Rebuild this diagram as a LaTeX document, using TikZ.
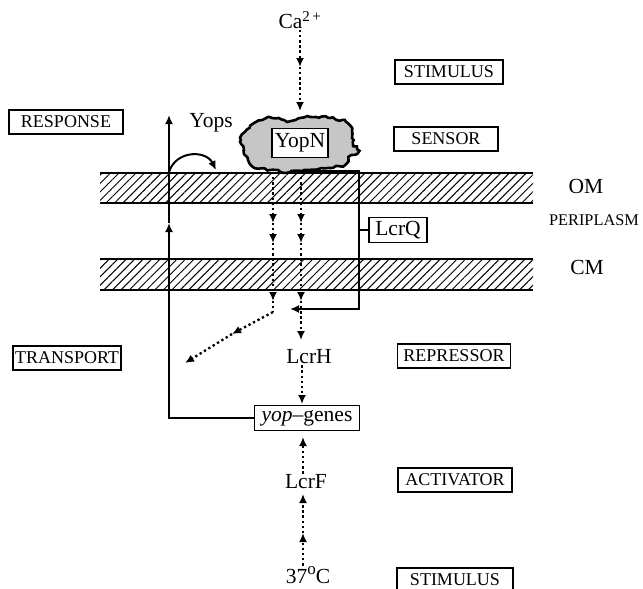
\documentclass[tikz,border=0pt]{standalone}
\usepackage{fontspec}
\setmainfont{Liberation Serif}
\usetikzlibrary{arrows.meta,patterns.meta,decorations.pathmorphing}
\begin{document}
\begin{tikzpicture}[x=1pt,y=-1pt,
  lbl/.style={font=\fontsize{21.5}{24}\selectfont, inner sep=1pt},
  tag/.style={draw, line width=1.7pt, font=\fontsize{18}{20}\selectfont, inner sep=2pt, minimum height=24pt},
  mtag/.style={font=\fontsize{21.5}{24}\selectfont, inner sep=1pt},
  tip/.style={-{Latex[length=9pt,width=8pt]}},
  dots/.style={tip, line width=2.3pt, dash pattern=on 2.3pt off 2.8pt},
  solidarr/.style={tip, line width=2pt},
  membrane/.style={pattern={Lines[angle=45,distance=6pt,line width=1pt]}}]
\useasboundingbox (0,0) rectangle (643,589);
\pgfmathsetseed{7}
% membranes
\fill[membrane] (100,173) rectangle (533,203);
\draw[line width=2pt] (100,173) -- (533,173) (100,203) -- (533,203);
\fill[membrane] (100,259) rectangle (533,290);
\draw[line width=2pt] (100,259) -- (533,259) (100,290) -- (533,290);
% category tags
\node[tag, minimum width=108pt] (stim1) at (449,72) {STIMULUS};
\node[tag, minimum width=114pt] (resp) at (66,122) {RESPONSE};
\node[tag, minimum width=104pt] (sens) at (446,139) {SENSOR};
\node[tag, minimum width=108pt] (trans) at (67,358) {TRANSPORT};
\node[tag, minimum width=113pt] (repr) at (454,356) {REPRESSOR};
\node[tag, minimum width=114pt] (activ) at (455,480) {ACTIVATOR};
\node[tag, minimum width=116pt] (stim2) at (455,580) {STIMULUS};
% compartment labels
\node[mtag] (om) at (586,186) {OM};
\node[font=\fontsize{16.3}{19}\selectfont, inner sep=0pt] (peri) at (594,220) {PERIPLASM};
\node[mtag] (cm) at (587,267) {CM};
% YopN blob
\path[draw=black, line width=2.6pt, fill=gray!45,
  decorate, decoration={random steps, segment length=3pt, amplitude=1.3pt}]
  plot[smooth cycle, tension=0.6] coordinates {(245,132) (256,122) (272,118) (290,121) (310,117) (330,118) (346,122) (352,131) (353,142) (359,151) (350,156) (345,164) (330,168) (310,170) (290,172) (270,170) (255,168) (248,160) (244,150) (241,140)};
\node[draw, fill=white, line width=1.7pt, lbl, inner sep=2pt, minimum width=56pt, minimum height=29pt] (yopn) at (300,143) {YopN};
% molecules
\node[lbl] (ca) at (300,20) {Ca\textsuperscript{2\,+}};
\node[lbl] (yops) at (211,123) {Yops};
\node[draw, line width=1.7pt, lbl, inner sep=2pt, minimum width=58pt, minimum height=25pt] (lcrq) at (398,230) {LcrQ};
\node[lbl] (lcrh) at (309,357) {LcrH};
\node[draw, line width=1.7pt, lbl, inner sep=2pt, minimum width=105pt, minimum height=25pt] (genes) at (307,418) {\textit{yop}--genes};
\node[lbl] (lcrf) at (306,482) {LcrF};
\node[lbl] (temp) at (308,575) {37\raisebox{0.85ex}{\fontsize{17}{17}\selectfont o}C};
% waypoints
\coordinate (ca1) at (300,67);
\coordinate (ca2) at (300,111);
\coordinate (l0) at (273,172);
\coordinate (l1) at (273,223);
\coordinate (l2) at (273,243);
\coordinate (l3) at (273,301);
\coordinate (l4) at (273,312);
\coordinate (d1) at (232,334);
\coordinate (d2) at (185,363);
\coordinate (r0) at (301,172);
\coordinate (r1) at (301,223);
\coordinate (r2) at (301,243);
\coordinate (r3) at (301,301);
\coordinate (r4) at (301,340);
\coordinate (g1) at (302,404);
\coordinate (f1) at (303,437);
\coordinate (t1) at (303,533);
\coordinate (t2) at (303,494);
\coordinate (yb) at (300,171);
\coordinate (qa) at (359,171);
\coordinate (qb) at (359,309);
\coordinate (qc) at (290,309);
\coordinate (qj) at (359,230);
\coordinate (lv0) at (169,418);
\coordinate (lv1) at (169,223);
\coordinate (lv2) at (169,115);
\coordinate (cv0) at (169,172);
\coordinate (cv1) at (216,170);
% Ca2+ stimulus
\draw[dots] (ca.south) -- (ca1);
\draw[dots] (ca1) -- (ca2);
% signal columns
\draw[dots] (l0) -- (l1);
\draw[dots] (l1) -- (l2);
\draw[dots] (l2) -- (l3);
\draw[dots, -] (l3) -- (l4);
\draw[dots] (l4) -- (d1);
\draw[dots] (d1) -- (d2);
\draw[dots] (r0) -- (r1);
\draw[dots] (r1) -- (r2);
\draw[dots] (r2) -- (r3);
\draw[dots] (r3) -- (r4);
\draw[dots] (lcrh.south -| g1) -- (g1);
\draw[dots] (lcrf.north -| f1) -- (f1);
\draw[dots] (temp.north -| t1) -- (t1);
\draw[dots] (t1) -- (t2);
% LcrQ loop
\draw[solidarr] (yb) -- (qa) -- (qb) -- (qc);
\draw[line width=2pt] (lcrq.west) -- (qj);
% Yops secretion
\draw[solidarr] (genes.west) -- (lv0) -- (lv1);
\draw[solidarr] (lv1) -- (lv2);
\draw[solidarr] (cv0) .. controls (176,150) and (206,150) .. (cv1);
\end{tikzpicture}
\end{document}
